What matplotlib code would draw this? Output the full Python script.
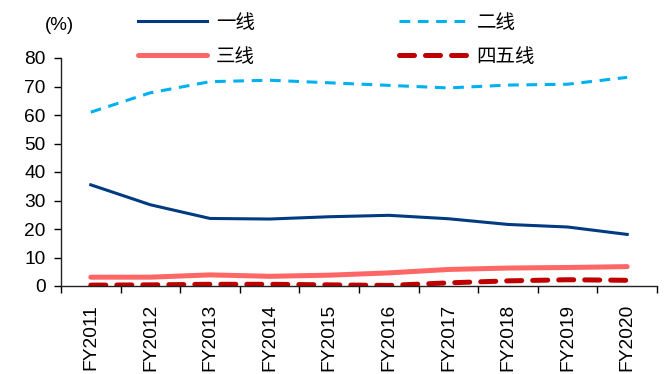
import matplotlib
matplotlib.use("Agg")
import matplotlib.pyplot as plt

plt.rcParams['font.family'] = ['Liberation Sans', 'Noto Sans CJK SC']

# 各线城市占比 (%)
years = ['FY2011', 'FY2012', 'FY2013', 'FY2014', 'FY2015',
         'FY2016', 'FY2017', 'FY2018', 'FY2019', 'FY2020']
tier1 = [35.5, 28.5, 23.7, 23.5, 24.3, 24.8, 23.6, 21.6, 20.7, 18.1]
tier2 = [61.0, 67.8, 71.7, 72.2, 71.3, 70.4, 69.5, 70.5, 70.8, 73.2]
tier3 = [3.1, 3.1, 3.9, 3.4, 3.8, 4.6, 5.8, 6.3, 6.5, 6.8]
tier45 = [0.3, 0.4, 0.6, 0.6, 0.4, 0.2, 1.1, 1.8, 2.2, 2.0]

fig = plt.figure(figsize=(6.64, 3.74), dpi=100)
ax = fig.add_axes([61 / 664, 1 - 286 / 374, 596 / 664, 228 / 374])

x = list(range(len(years)))
ax.plot(x, tier1, color='#003a80', lw=2.2, label='一线')
ax.plot(x, tier2, color='#00b0f0', lw=2.2, ls=(0, (3.5, 2.5)), label='二线')
ax.plot(x, tier3, color='#ff6666', lw=3.6, solid_capstyle='round', label='三线')
ax.plot(x, tier45, color='#c00000', lw=3.6, ls=(0, (3, 2.2)),
        dash_capstyle='round', label='四五线')

ax.set_xlim(-0.5, len(years) - 0.5)
ax.set_ylim(0, 80)
ax.set_yticks(range(0, 81, 10))
ax.set_xticks([i - 0.5 for i in range(len(years) + 1)])
ax.set_xticklabels([])
ax.set_xticks(x, minor=True)
ax.set_xticklabels(years, minor=True, rotation=90)
ax.tick_params(axis='x', which='minor', length=0, pad=13, labelsize=13.8)
ax.tick_params(axis='x', which='major', length=5, direction='out', width=1)
ax.tick_params(axis='y', length=5, direction='out', width=1, labelsize=13.8, pad=6)

for s in ['top', 'right']:
    ax.spines[s].set_visible(False)
for s in ['left', 'bottom']:
    ax.spines[s].set_linewidth(1)
    ax.spines[s].set_color('#222222')

fig.text(59 / 664, 1 - 26 / 374, '(%)', fontsize=13.5, ha='center', va='center')

handles, labels = ax.get_legend_handles_labels()
order = [0, 2, 1, 3]
fig.legend([handles[i] for i in order], [labels[i] for i in order],
           ncol=2, frameon=False, loc='upper left',
           bbox_to_anchor=(138 / 664, 1 - 14 / 374),
           borderpad=0, borderaxespad=0, fontsize=14,
           handlelength=3.55, handletextpad=0.45, columnspacing=7.4,
           labelspacing=0.85)

fig.savefig('out.png', dpi=100)
